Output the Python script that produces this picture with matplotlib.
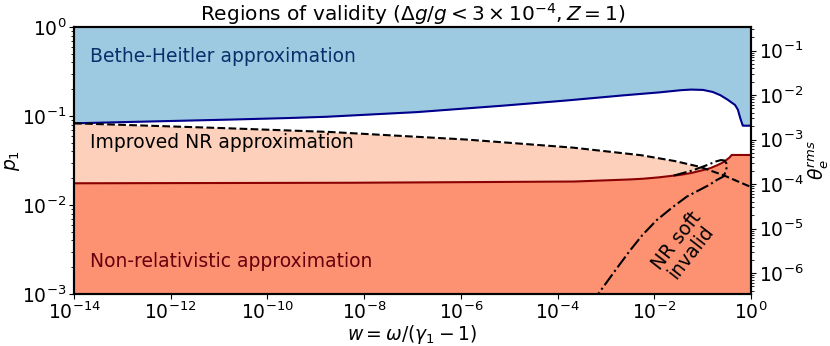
import numpy as np
import matplotlib.pyplot as plt

# ----------------------------------------------------
# DATA (log10 values)
# ----------------------------------------------------
bh_logw = [-14, -12, -10, -8.9, -7, -5.5, -4, -3, -2.4, -1.88, -1.5, -1.26, -1.0, -0.8, -0.64,
           -0.5, -0.4, -0.33, -0.27, -0.23, -0.2, -0.17, 0.0]
bh_logp = [-1.082, -1.057, -1.03, -1.012, -0.96, -0.90, -0.835, -0.785, -0.757, -0.734, -0.712, -0.703,
           -0.706, -0.728, -0.764, -0.81, -0.85, -0.876, -0.93, -1.01, -1.06, -1.109, -1.109]

inr_logw = [-14, -11.5, -8.83, -6.0, -3.74, -2.30, -1.61, -1.06, -0.58, -0.02]
inr_logp = [-1.082, -1.125, -1.176, -1.26, -1.352, -1.438, -1.502, -1.57, -1.663, -1.794]

nr_logw = [-14, -8.9, -3.74, -2.8, -2.30, -2.0, -1.5, -1.26, -1.0, -0.85, -0.75, -0.64, -0.56, -0.49, -0.44, -0.40, 0.0]
nr_logp = [-1.756, -1.752, -1.738, -1.72, -1.708, -1.695, -1.665, -1.644, -1.61, -1.588, -1.566, -1.539,
           -1.515, -1.487, -1.465, -1.438, -1.438]

soft_logw = [-1.6, -1.2, -0.9, -0.72, -0.62, -0.55, -0.51, -0.50, -0.52, -0.57, -0.64, -0.71, -0.85,
             -0.99, -1.15, -1.33, -1.61, -1.95, -2.25, -2.5, -2.8, -3.12, -3.2]
soft_logp = [-1.67, -1.61, -1.55, -1.51, -1.495, -1.50, -1.53, -1.57, -1.62, -1.68, -1.70, -1.72, -1.77,
             -1.81, -1.855, -1.907, -2.02, -2.17, -2.34, -2.51, -2.73, -2.97, -3.03]

theta_logc = -0.47  # theta_e^rms = C * p1^2

# ----------------------------------------------------
# CURVES ON A COMMON GRID
# ----------------------------------------------------
lw = np.linspace(-14, 0, 3000)
w = 10**lw
p_bh = 10**np.interp(lw, bh_logw, bh_logp)
p_inr = 10**np.interp(lw, inr_logw, inr_logp)
p_nr = 10**np.interp(lw, nr_logw, nr_logp)

fs = 13.5
fig = plt.figure(figsize=(8.3, 3.46), dpi=100)
ax = fig.add_axes([0.0892, 0.1503, 0.8156, 0.7717])

ax.fill_between(w, p_bh, 1.0, color="#9ecae1", lw=0)
ax.fill_between(w, p_nr, p_inr, where=p_inr > p_nr, color="#fdd0bc", lw=0)
ax.fill_between(w, 1e-3, p_nr, color="#fc9272", lw=0)

ax.plot(w, p_bh, color="darkblue", lw=1.5)
ax.plot(w, p_nr, color="darkred", lw=1.5)
ax.plot(w, p_inr, "k--", lw=1.5)
ax.plot(10**np.array(soft_logw), 10**np.array(soft_logp), "k-.", lw=1.5)

ax.set_xscale("log")
ax.set_yscale("log")
ax.set_xlim(1e-14, 1)
ax.set_ylim(1e-3, 1)
ax.set_xticks([10.0**k for k in range(-14, 1, 2)])
ax.set_xlabel(r"$w = \omega/(\gamma_1 - 1)$", fontsize=fs, labelpad=0)
ax.set_ylabel(r"$p_1$", fontsize=fs, labelpad=0)
ax.tick_params(labelsize=fs, pad=2)
ax.set_title(r"Regions of validity ($\Delta g/g < 3\times10^{-4}, Z=1$)", fontsize=14.5, pad=3)

ax.text(10**-13.67, 10**-0.337, "Bethe-Heitler approximation", color="#08306b", fontsize=fs, va="center")
ax.text(10**-13.67, 10**-1.30, "Improved NR approximation", color="black", fontsize=fs, va="center")
ax.text(10**-13.67, 10**-2.64, "Non-relativistic approximation", color="#67000d", fontsize=fs, va="center")
ax.text(10**-1.39, 10**-2.47, "NR soft\ninvalid", fontsize=fs, rotation=52,
        ha="center", va="center", linespacing=1.0)

ax2 = ax.twinx()
ax2.set_yscale("log")
ax2.set_ylim(10**(theta_logc - 6), 10**theta_logc)
ax2.set_ylabel(r"$\theta_e^{rms}$", fontsize=fs, labelpad=2)
ax2.tick_params(labelsize=fs, pad=2)

for a in (ax, ax2):
    for s in a.spines.values():
        s.set_linewidth(1.5)

fig.savefig("out.png", dpi=100)
